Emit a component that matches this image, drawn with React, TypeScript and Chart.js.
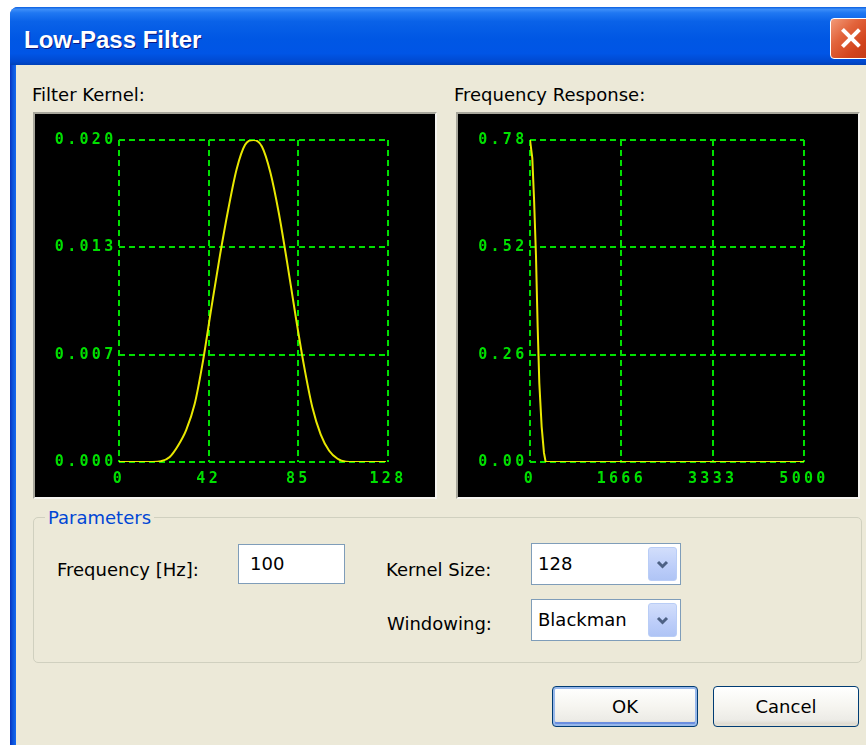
import React, { useEffect, useRef } from 'react';
import { Chart, registerables } from 'chart.js';

Chart.register(...registerables);

// ---- Filter kernel (sample index vs. amplitude) ----
const kernelIndex = [0, 4, 8, 12, 16, 20, 24, 28, 32, 36, 40, 44, 48, 52, 56, 60, 64, 68, 72, 76, 80, 84, 88, 92, 96, 100, 104, 108, 112, 116, 120, 124, 127];
const kernelValues = [0, 0, 0, 0, 0, 0.00005, 0.0003, 0.001, 0.002, 0.0036, 0.0063, 0.0096, 0.0128, 0.0157, 0.0182, 0.0197, 0.02, 0.0196, 0.018, 0.0155, 0.0124, 0.0091, 0.006, 0.0034, 0.0017, 0.0007, 0.0002, 0.00002, 0, 0, 0, 0, 0];
const kernelXMax = 128;
const kernelYMax = 0.02;
const kernelXTickLabels = ['0', '42', '85', '128'];
const kernelYTickLabels = ['0.000', '0.007', '0.013', '0.020'];

// ---- Frequency response (Hz vs. magnitude) ----
const responseHz = [0, 42, 73, 109, 140, 170, 213, 255, 286, 5000];
const responseValues = [0.78, 0.736, 0.64, 0.5, 0.327, 0.191, 0.085, 0.022, 0, 0];
const responseXMax = 5000;
const responseYMax = 0.78;
const responseXTickLabels = ['0', '1666', '3333', '5000'];
const responseYTickLabels = ['0.00', '0.26', '0.52', '0.78'];

const GREEN = '#00e000';
const YELLOW = '#e8e800';
const UI_FONT = "'DejaVu Sans', Verdana, sans-serif";
const TICK_FONT = { family: "'DejaVu Sans Mono', 'Liberation Mono', monospace", size: 15, weight: 'bold' as const };
const SPACING = '3.3px';

const letterSpacingPlugin = {
  id: 'scopeLetterSpacing',
  beforeInit(chart: any) { chart.ctx.letterSpacing = SPACING; },
  beforeUpdate(chart: any) { chart.ctx.letterSpacing = SPACING; },
  beforeDraw(chart: any) { chart.ctx.letterSpacing = SPACING; },
};

type ScopeProps = {
  xs: number[];
  ys: number[];
  xMax: number;
  yMax: number;
  xLabels: string[];
  yLabels: string[];
  yAxisWidth: number;
  padRight: number;
  smooth: boolean;
};

const CW = 400;
const CH = 383;

function Scope(p: ScopeProps) {
  const ref = useRef<HTMLCanvasElement>(null);
  useEffect(() => {
    const evenTicks = (max: number, n: number) =>
      Array.from({ length: n }, (_, i) => ({ value: (max * i) / (n - 1) }));
    const chart = new Chart(ref.current as HTMLCanvasElement, {
      type: 'line',
      data: {
        datasets: [
          {
            data: p.xs.map((x, i) => ({ x, y: p.ys[i] })),
            borderColor: YELLOW,
            borderWidth: 2,
            pointRadius: 0,
            fill: false,
            cubicInterpolationMode: p.smooth ? 'monotone' : 'default',
            tension: 0,
          } as any,
        ],
      },
      options: {
        animation: false,
        responsive: false,
        devicePixelRatio: 1,
        events: [],
        layout: { padding: { top: 26, right: p.padRight, left: 0, bottom: 0 } },
        plugins: { legend: { display: false }, tooltip: { enabled: false } },
        scales: {
          x: {
            type: 'linear',
            min: 0,
            max: p.xMax,
            afterBuildTicks: (s: any) => { s.ticks = evenTicks(p.xMax, p.xLabels.length); },
            afterFit: (s: any) => { s.height = 35; },
            ticks: {
              callback: (_v: any, i: number) => p.xLabels[i],
              color: GREEN,
              font: TICK_FONT,
              padding: 8,
              autoSkip: false,
              maxRotation: 0,
              minRotation: 0,
            },
            grid: { color: GREEN, lineWidth: 2, drawTicks: false, borderDash: [6, 4] } as any,
            border: { display: false, dash: [6, 4] },
          },
          y: {
            type: 'linear',
            min: 0,
            max: p.yMax,
            afterBuildTicks: (s: any) => { s.ticks = evenTicks(p.yMax, p.yLabels.length); },
            afterFit: (s: any) => { s.width = p.yAxisWidth; },
            ticks: {
              callback: (_v: any, i: number) => p.yLabels[i],
              color: GREEN,
              font: TICK_FONT,
              padding: 2.5,
              autoSkip: false,
            },
            grid: { color: GREEN, lineWidth: 2, drawTicks: false, borderDash: [6, 4] } as any,
            border: { display: false, dash: [6, 4] },
          },
        },
      } as any,
      plugins: [letterSpacingPlugin],
    });
    return () => chart.destroy();
  }, []);
  return <canvas ref={ref} width={CW} height={CH} style={{ display: 'block', width: CW, height: CH }} />;
}

const abs = (left: number, top: number, extra: React.CSSProperties = {}): React.CSSProperties => ({
  position: 'absolute',
  left,
  top,
  ...extra,
});

const label = (left: number, top: number, extra: React.CSSProperties = {}): React.CSSProperties =>
  abs(left, top, {
    fontFamily: UI_FONT,
    fontSize: 18,
    lineHeight: '18px',
    color: '#000',
    whiteSpace: 'nowrap',
    ...extra,
  });

function ComboBox({ left, top, height, text }: { left: number; top: number; height: number; text: string }) {
  return (
    <div style={abs(left, top, { width: 150, height, boxSizing: 'border-box', border: '1px solid #7F9DB9', background: '#fff' })}>
      <div style={label(6, (height - 2) / 2 - 9, {})}>{text}</div>
      <div
        style={abs(116, 3, {
          width: 29,
          height: height - 8,
          boxSizing: 'border-box',
          borderRadius: 3,
          border: '1px solid #B9CDF6',
          background: 'linear-gradient(to bottom, #D2DEFB 0%, #BCCDF9 60%, #AFC4F5 100%)',
        })}
      >
        <svg width={27} height={height - 10} style={{ display: 'block' }}>
          <polyline
            points={`9,${(height - 10) / 2 - 2} 13.5,${(height - 10) / 2 + 2.5} 18,${(height - 10) / 2 - 2}`}
            fill="none"
            stroke="#4D6185"
            strokeWidth={3}
          />
        </svg>
      </div>
    </div>
  );
}

function XPButton({ left, text, isDefault }: { left: number; text: string; isDefault?: boolean }) {
  return (
    <div
      style={abs(left, 686, {
        width: 146,
        height: 41,
        boxSizing: 'border-box',
        border: '1px solid #003C74',
        borderRadius: 4,
        background: 'linear-gradient(to bottom, #FFFFFF 0%, #F6F5F0 50%, #ECEBE6 85%, #D6D0C5 100%)',
        boxShadow: isDefault ? 'inset 0 0 0 2px #98B8EA, inset 0 -2px 0 2px #6A8EE0' : 'inset 0 -2px 0 0 #E3E0D5',
        display: 'flex',
        alignItems: 'center',
        justifyContent: 'center',
        fontFamily: UI_FONT,
        fontSize: 18,
        color: '#000',
      })}
    >
      {text}
    </div>
  );
}

export default function App() {
  useEffect(() => {
    document.body.style.margin = '0';
  }, []);
  return (
    <div style={{ position: 'absolute', left: 0, top: 0, width: 866, height: 745, overflow: 'hidden', background: '#fff' }}>
      {/* window frame */}
      <div
        style={abs(10, 7, {
          width: 880,
          height: 760,
          borderRadius: '8px 8px 0 0',
          background: '#0A4FD8',
          overflow: 'hidden',
        })}
      >
        {/* title bar */}
        <div
          style={abs(0, 0, {
            width: 880,
            height: 58,
            background:
              'linear-gradient(to bottom, #0A5FE0 0%, #3D8EF8 4%, #2078F2 10%, #0A62E8 25%, #0057E4 55%, #0055E6 80%, #0049D0 94%, #0040B8 100%)',
          })}
        />
        {/* left border */}
        <div style={abs(0, 58, { width: 6, height: 702, background: 'linear-gradient(to right, #0531C0 0%, #0A4FD8 40%, #166AEE 100%)' })} />
      </div>
      {/* title text */}
      <div
        style={abs(24, 28, {
          fontFamily: "'Liberation Sans', Arial, sans-serif",
          fontWeight: 'bold',
          fontSize: 24,
          lineHeight: '24px',
          color: '#fff',
          textShadow: '1px 1px 0 #0A1883',
          whiteSpace: 'nowrap',
        })}
      >
        Low-Pass Filter
      </div>
      {/* close button */}
      <div
        style={abs(830, 18, {
          width: 42,
          height: 41,
          boxSizing: 'border-box',
          borderRadius: 4,
          border: '1.5px solid #fff',
          background: 'linear-gradient(135deg, #F29A78 0%, #E2643C 35%, #D2431C 70%, #C23A16 100%)',
        })}
      >
        <div style={abs(8.5, 6.5, { width: 3.5, height: 24, background: '#fff', transform: 'translate(9px,0) rotate(45deg)', transformOrigin: 'center' })} />
        <div style={abs(8.5, 6.5, { width: 3.5, height: 24, background: '#fff', transform: 'translate(9px,0) rotate(-45deg)', transformOrigin: 'center' })} />
      </div>

      {/* client area */}
      <div style={abs(16, 65, { width: 860, height: 690, background: '#ECE9D8' })} />

      {/* chart captions */}
      <div style={label(32, 86)}>Filter Kernel:</div>
      <div style={label(454, 86)}>Frequency Response:</div>

      {/* left scope */}
      <div
        style={abs(33, 112, {
          width: 404,
          height: 387,
          boxSizing: 'border-box',
          borderStyle: 'solid',
          borderWidth: 2,
          borderColor: '#A7A69B #F6F5F0 #F6F5F0 #A7A69B',
          background: '#000',
        })}
      >
        <Scope
          xs={kernelIndex}
          ys={kernelValues}
          xMax={kernelXMax}
          yMax={kernelYMax}
          xLabels={kernelXTickLabels}
          yLabels={kernelYTickLabels}
          yAxisWidth={84}
          padRight={47}
          smooth={true}
        />
      </div>

      {/* right scope */}
      <div
        style={abs(456, 112, {
          width: 404,
          height: 387,
          boxSizing: 'border-box',
          borderStyle: 'solid',
          borderWidth: 2,
          borderColor: '#A7A69B #F6F5F0 #F6F5F0 #A7A69B',
          background: '#000',
        })}
      >
        <Scope
          xs={responseHz}
          ys={responseValues}
          xMax={responseXMax}
          yMax={responseYMax}
          xLabels={responseXTickLabels}
          yLabels={responseYTickLabels}
          yAxisWidth={72}
          padRight={54}
          smooth={false}
        />
      </div>

      {/* parameters group */}
      <div
        style={abs(33, 517, {
          width: 829,
          height: 146,
          boxSizing: 'border-box',
          border: '1px solid #D0D0BF',
          borderRadius: 5,
        })}
      />
      <div style={label(45, 509, { color: '#0046D5', background: '#ECE9D8', padding: '0 3px' })}>Parameters</div>

      <div style={label(57, 561)}>Frequency [Hz]:</div>
      <div
        style={abs(238, 544, {
          width: 107,
          height: 40,
          boxSizing: 'border-box',
          border: '1px solid #7F9DB9',
          background: '#fff',
        })}
      >
        <div style={label(11, 10)}>100</div>
      </div>

      <div style={label(386, 561)}>Kernel Size:</div>
      <ComboBox left={531} top={543} height={42} text="128" />

      <div style={label(387, 615)}>Windowing:</div>
      <ComboBox left={531} top={599} height={42} text="Blackman" />

      <XPButton left={552} text="OK" isDefault />
      <XPButton left={713} text="Cancel" />
    </div>
  );
}
